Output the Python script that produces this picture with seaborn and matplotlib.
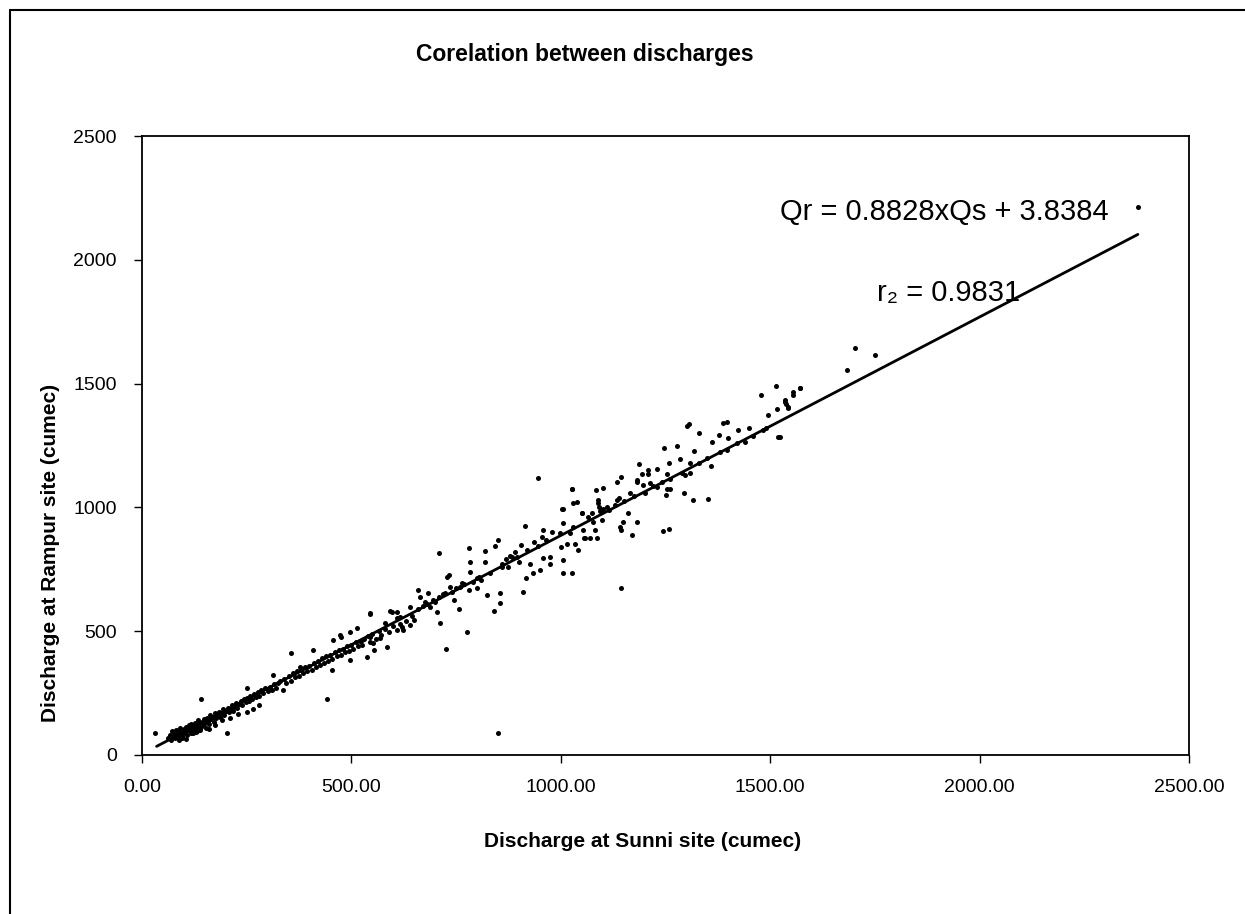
import numpy as np
import pandas as pd
import matplotlib
matplotlib.use("Agg")
import matplotlib.pyplot as plt
import seaborn as sns
from matplotlib.lines import Line2D

# Discharge pairs (Sunni site, Rampur site) in cumec
LOW_FLOWS = [
    (31, 88), (62, 70), (66, 82), (70, 62), (72, 95), (75, 75), (78, 68), (80, 88),
    (82, 100), (84, 72), (86, 80), (88, 95), (90, 78), (92, 110), (94, 85), (96, 70),
    (98, 92), (100, 105), (102, 88), (104, 98), (106, 115), (108, 80), (110, 100),
    (112, 120), (114, 95), (116, 108), (118, 125), (120, 100), (122, 88), (124, 115),
    (126, 130), (128, 110), (130, 120), (132, 98), (134, 140), (136, 118), (138, 128),
    (140, 112), (142, 225), (144, 135), (146, 122), (148, 145), (150, 130), (152, 110),
    (155, 150), (158, 138), (160, 125), (163, 160), (166, 145), (170, 155), (172, 135),
    (175, 170), (178, 150), (180, 160), (184, 175), (186, 155), (190, 168), (193, 185),
    (196, 160), (200, 178), (202, 90), (205, 190), (208, 172), (212, 185), (215, 200),
    (218, 178), (222, 195), (225, 210), (228, 188), (232, 205), (236, 218), (240, 200),
    (244, 225), (248, 212), (250, 230), (255, 220), (258, 240), (262, 228), (268, 245),
    (272, 235), (276, 255), (280, 240), (285, 262), (290, 250), (295, 270), (300, 258),
    (305, 275), (310, 262), (315, 285), (320, 270), (325, 290), (160, 105), (175, 120),
    (190, 140), (210, 150), (230, 165), (250, 175), (265, 185), (280, 200), (250, 269),
    (88, 60), (95, 78), (105, 65), (118, 90), (128, 92), (138, 100),
]

MID_FLOWS = [
    (314, 323), (338, 263), (377, 357), (357, 410), (409, 424), (453, 343), (441, 225),
    (473, 485), (497, 384), (537, 397), (544, 569), (553, 424), (584, 438), (592, 583),
    (608, 552), (330, 300), (340, 305), (345, 290), (350, 320), (355, 300), (360, 330),
    (365, 315), (370, 340), (375, 320), (380, 345), (385, 330), (390, 355), (395, 338),
    (400, 360), (405, 345), (410, 372), (415, 355), (420, 380), (425, 365), (430, 390),
    (435, 372), (440, 398), (445, 380), (450, 405), (455, 388), (460, 415), (465, 398),
    (470, 425), (475, 405), (480, 430), (485, 415), (490, 440), (495, 420), (500, 445),
    (505, 430), (510, 455), (515, 440), (520, 462), (525, 445), (530, 470), (540, 480),
    (545, 455), (550, 490), (560, 470), (565, 500), (570, 485), (580, 510), (590, 495),
    (600, 520), (610, 505), (615, 530), (620, 515), (630, 540), (640, 525), (645, 560),
    (650, 545), (544, 572), (457, 464), (476, 478), (497, 498), (513, 512), (525, 464),
    (544, 478), (552, 451), (568, 471), (580, 532), (596, 579), (608, 579), (616, 559),
    (624, 505), (640, 599), (660, 666), (664, 639), (676, 619), (684, 653), (688, 599),
    (696, 626), (704, 579), (712, 532), (724, 653), (732, 727), (736, 680), (744, 626),
    (756, 589), (764, 693), (776, 497), (726, 427), (780, 666), (784, 740), (784, 780),
    (800, 673), (804, 720), (820, 780), (824, 646), (840, 582), (843, 844), (851, 869),
    (855, 612), (855, 653), (859, 760), (875, 760), (883, 800), (895, 800), (911, 660),
    (914, 925), (918, 713), (926, 773), (934, 734), (946, 1117), (950, 747), (958, 909),
    (958, 794), (974, 800), (974, 773), (710, 814), (782, 838), (818, 824), (729, 720),
    (850, 89), (660, 590), (670, 600), (680, 610), (700, 620), (710, 640), (720, 650),
    (740, 660), (750, 675), (760, 680), (770, 690), (790, 700), (800, 715), (810, 705),
    (830, 735), (870, 790), (860, 770), (880, 805), (900, 780), (890, 820), (905, 850),
    (920, 830), (935, 860), (945, 845), (955, 880), (965, 870), (980, 900),
]

HIGH_FLOWS = [
    (1000, 839), (1004, 993), (1006, 788), (1006, 734), (1014, 852), (1022, 895),
    (1027, 1074), (1028, 734), (1034, 852), (1038, 1023), (1042, 828), (1050, 977),
    (1058, 875), (1515, 1490), (1571, 1481), (1555, 1468), (1479, 1454), (1535, 1433),
    (1539, 1418), (1543, 1404), (1517, 1396), (1496, 1372), (1519, 1285), (1483, 1313),
    (1450, 1319), (1424, 1313), (1440, 1265), (1400, 1279), (1396, 1232), (1388, 1342),
    (1398, 1345), (1379, 1292), (1360, 1265), (1331, 1299), (1301, 1329), (1307, 1337),
    (1317, 1229), (1359, 1167), (1308, 1178), (1308, 1140), (1297, 1131), (1285, 1194),
    (1277, 1248), (1247, 1241), (1259, 1178), (1253, 1137), (1231, 1157), (1209, 1153),
    (1209, 1137), (1195, 1135), (1187, 1174), (1183, 1110), (1183, 1101), (1197, 1090),
    (1213, 1100), (1229, 1081), (1241, 1104), (1253, 1073), (1252, 1050), (1261, 1076),
    (1295, 1060), (1316, 1030), (1351, 1035), (1145, 1124), (1135, 1104), (1165, 1060),
    (1140, 1038), (1134, 1032), (1161, 978), (1183, 942), (1149, 942), (1141, 922),
    (1169, 889), (1243, 906), (1259, 911), (1101, 1080), (1084, 1071), (1090, 1030),
    (1090, 1018), (1091, 1000), (1093, 985), (1098, 949), (1078, 942), (1116, 988),
    (1102, 995), (1074, 976), (1066, 963), (1028, 1073), (1030, 1016), (1050, 976),
    (1005, 993), (1006, 936), (1030, 922), (1054, 908), (1081, 908), (1070, 875),
    (1086, 875), (1055, 875), (998, 895), (1145, 908), (1145, 675), (1110, 1000),
    (1130, 1010), (1150, 1025), (1175, 1045), (1200, 1060), (1220, 1085), (1260, 1115),
    (1290, 1140), (1330, 1180), (1350, 1200), (1380, 1225), (1420, 1260), (1460, 1290),
    (1490, 1320), (1523, 1284), (1535, 1426), (1543, 1401), (1555, 1454), (1571, 1482),
    (1683, 1555), (1702, 1644), (1750, 1615), (2378, 2213),
]

# fitted relation printed on the chart
SLOPE = 0.8828
INTERCEPT = 3.8384
R2_TEXT = "0.9831"

X_TICKS = [0, 500, 1000, 1500, 2000, 2500]
Y_TICKS = [0, 500, 1000, 1500, 2000, 2500]

FONTS = ["Liberation Sans Narrow", "Liberation Sans", "DejaVu Sans"]


def make_plot():
    df = pd.DataFrame(LOW_FLOWS + MID_FLOWS + HIGH_FLOWS, columns=["sunni", "rampur"])

    sns.set_theme(style="white")
    plt.rcParams["font.family"] = FONTS
    plt.rcParams["text.color"] = "black"

    fig = plt.figure(figsize=(12.45, 9.14), dpi=100)
    ax = fig.add_axes([0.114, 0.174, 0.841, 0.677])

    sns.scatterplot(data=df, x="sunni", y="rampur", ax=ax, s=13,
                    color="black", linewidth=0, legend=False)

    # trend line from the printed equation
    line_x = np.array([df["sunni"].min() + 4, df["sunni"].max()])
    sns.lineplot(x=line_x, y=SLOPE * line_x + INTERCEPT, ax=ax,
                 color="black", linewidth=2)

    ax.set_xlim(0, 2500)
    ax.set_ylim(0, 2500)
    ax.set_xticks(X_TICKS)
    ax.set_yticks(Y_TICKS)
    ax.set_xticklabels([f"{v:.2f}" for v in X_TICKS], fontsize=14)
    ax.set_yticklabels([str(v) for v in Y_TICKS], fontsize=14)
    ax.tick_params(axis="both", direction="out", length=6, width=1,
                   color="black", labelcolor="black", bottom=True, left=True)
    ax.tick_params(axis="x", pad=11)
    ax.tick_params(axis="y", pad=12)

    for sp in ax.spines.values():
        sp.set_color("black")
        sp.set_linewidth(1.3)

    ax.set_xlabel("Discharge at Sunni site (cumec)", fontsize=15,
                  fontweight="bold", color="black")
    ax.set_ylabel("Discharge at Rampur site (cumec)", fontsize=15,
                  fontweight="bold", color="black")
    ax.xaxis.set_label_coords(0.478, -0.124)
    ax.yaxis.set_label_coords(-0.078, 0.326)

    fig.text(585 / 1245, 1 - 55 / 914, "Corelation between discharges",
             ha="center", va="center", fontsize=16.5, fontweight="bold",
             color="black")

    ax.text(1523, 2193, f"Qr = {SLOPE}xQs + {INTERCEPT}", fontsize=21,
            ha="left", va="center", color="black")
    ax.text(1755, 1866, f"r\u2082 = {R2_TEXT}", fontsize=21,
            ha="left", va="center", color="black")

    # outer frame of the scanned figure (top and left edges)
    fig.add_artist(Line2D([10 / 1245, 10 / 1245], [0, 1 - 10 / 914],
                          transform=fig.transFigure, color="black", lw=1.5))
    fig.add_artist(Line2D([10 / 1245, 1], [1 - 10 / 914, 1 - 10 / 914],
                          transform=fig.transFigure, color="black", lw=1.5))

    fig.savefig("out.png", dpi=100, facecolor="white")
    plt.close(fig)


if __name__ == "__main__":
    make_plot()
